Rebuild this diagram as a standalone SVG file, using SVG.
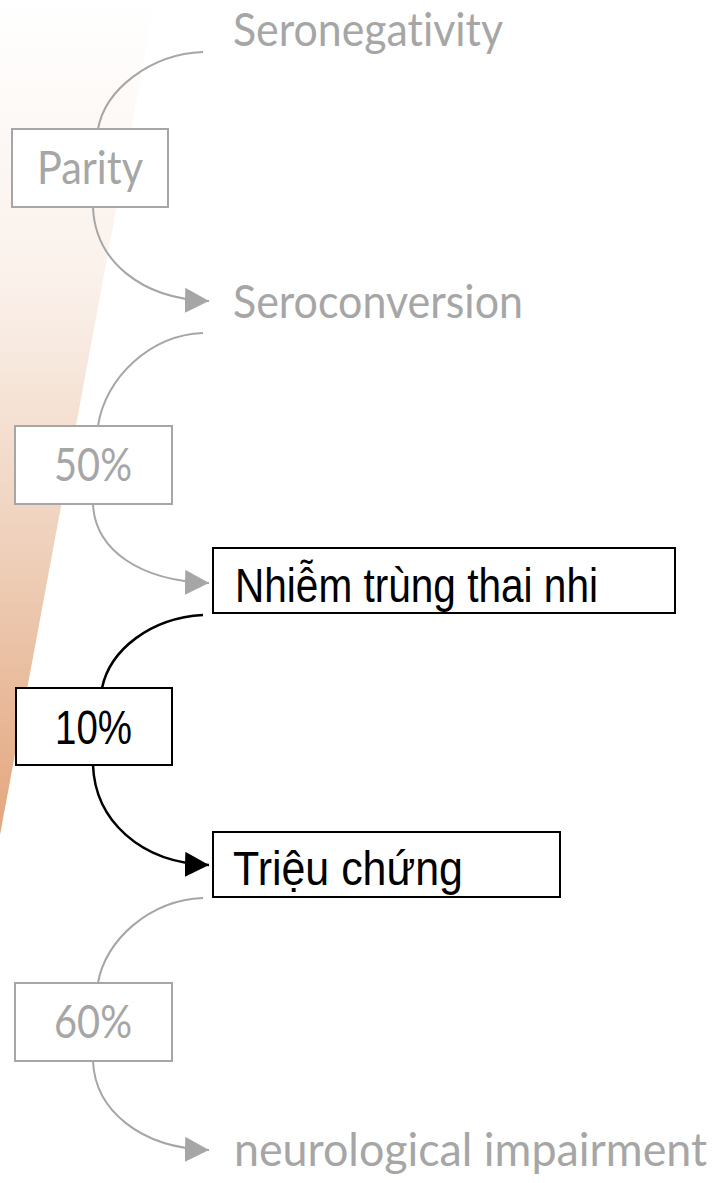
<svg xmlns="http://www.w3.org/2000/svg" width="718" height="1183" viewBox="0 0 718 1183">
<defs>
<linearGradient id="wedge" x1="0" y1="0" x2="0" y2="835" gradientUnits="userSpaceOnUse">
<stop offset="0" stop-color="#ffffff"/>
<stop offset="0.35" stop-color="#faf0e9"/>
<stop offset="0.65" stop-color="#efd1bc"/>
<stop offset="1" stop-color="#e3a67d"/>
</linearGradient>
<marker id="ag" markerUnits="userSpaceOnUse" viewBox="0 0 24 25" refX="24" refY="12.5" markerWidth="24" markerHeight="25" orient="auto">
<path d="M0,0 L24,12.5 L0,25 Z" fill="#a6a6a6"/>
</marker>
<marker id="ab" markerUnits="userSpaceOnUse" viewBox="0 0 24 25" refX="24" refY="12.5" markerWidth="24" markerHeight="25" orient="auto">
<path d="M0,0 L24,12.5 L0,25 Z" fill="#000000"/>
</marker>
</defs>
<style>
.gt{font-family:Lato,"Open Sans","Liberation Sans",sans-serif;font-size:46px;fill:#a6a6a6;font-variant-ligatures:none}
.bt{font-family:"Liberation Sans",Arial,sans-serif;font-size:48px;fill:#000000}
.gbox{fill:#ffffff;stroke:#a6a6a6;stroke-width:2}
.bbox{fill:#ffffff;stroke:#000000;stroke-width:2}
.gc{fill:none;stroke:#a6a6a6;stroke-width:2}
.bc{fill:none;stroke:#000000;stroke-width:2.5}
</style>
<rect x="0" y="0" width="718" height="1183" fill="#ffffff"/>
<polygon points="0,0 155,0 0,835" fill="url(#wedge)"/>
<g id="connectors">
<path class="gc" d="M203,52 C150,54 105,90 98,129"/>
<path class="gc" d="M93,207 C95,260 140,299 209,301" marker-end="url(#ag)"/>
<path class="gc" d="M203,333 C150,335 105,378 98,426"/>
<path class="gc" d="M93,504 C95,550 140,581 209,583" marker-end="url(#ag)"/>
<path class="bc" d="M203,615 C150,618 110,650 102,688"/>
<path class="bc" d="M93,765 C95,820 140,863 209,865" marker-end="url(#ab)"/>
<path class="gc" d="M203,898 C150,900 105,940 98,983"/>
<path class="gc" d="M93,1061 C95,1110 140,1148 209,1150" marker-end="url(#ag)"/>
</g>
<g id="seronegativity"><text class="gt" x="233" y="46" textLength="270" lengthAdjust="spacingAndGlyphs">Seronegativity</text></g>
<g id="parity"><rect class="gbox" x="12" y="129" width="156" height="78"/><text class="gt" x="37" y="184" textLength="106" lengthAdjust="spacingAndGlyphs">Parity</text></g>
<g id="seroconversion"><text class="gt" x="233" y="318" textLength="290" lengthAdjust="spacingAndGlyphs">Seroconversion</text></g>
<g id="p50"><rect class="gbox" x="15" y="426" width="157" height="78"/><text class="gt" x="54" y="481" textLength="78" lengthAdjust="spacingAndGlyphs">50%</text></g>
<g id="nhiem"><rect class="bbox" x="213" y="548" width="462" height="65"/><text class="bt" x="235" y="602" textLength="363" lengthAdjust="spacingAndGlyphs">Nhiễm trùng thai nhi</text></g>
<g id="p10"><rect class="bbox" x="16" y="688" width="156" height="77"/><text class="bt" x="55" y="744" textLength="77" lengthAdjust="spacingAndGlyphs">10%</text></g>
<g id="trieu"><rect class="bbox" x="213" y="832" width="347" height="65"/><text class="bt" x="233" y="885" textLength="230" lengthAdjust="spacingAndGlyphs">Triệu chứng</text></g>
<g id="p60"><rect class="gbox" x="15" y="983" width="157" height="78"/><text class="gt" x="54" y="1038" textLength="78" lengthAdjust="spacingAndGlyphs">60%</text></g>
<g id="neuro"><text class="gt" x="234" y="1166" textLength="473" lengthAdjust="spacingAndGlyphs">neurological impairment</text></g>
</svg>
